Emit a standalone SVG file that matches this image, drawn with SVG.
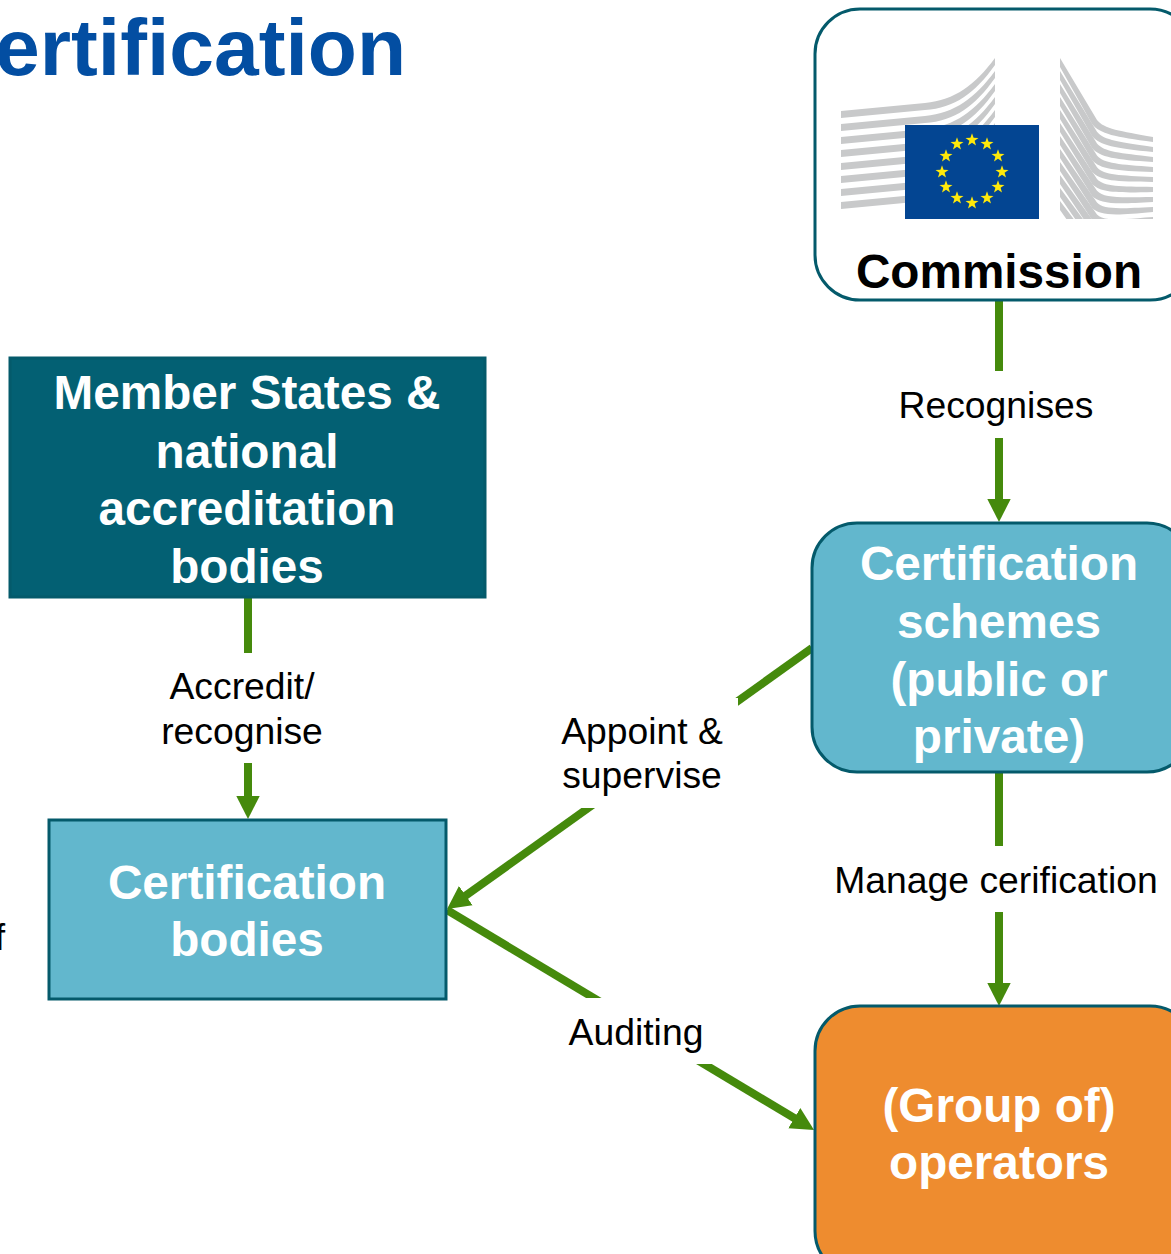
<svg xmlns="http://www.w3.org/2000/svg" width="1171" height="1254" viewBox="0 0 1171 1254">
<style>
text{font-family:"Liberation Sans",Arial,sans-serif}
.h{font-size:47.7px;font-weight:700;text-anchor:middle;fill:#fff;transform:translate(0,.5px)}
.l{font-size:37.3px;text-anchor:middle;fill:#000}
.c{fill:none;stroke:#458a0c;stroke-width:8}
.n{stroke:#045a6b;stroke-width:3}
.mask{fill:#fff}
</style>
<defs>
<marker id="a" markerUnits="userSpaceOnUse" markerWidth="24" markerHeight="24" refX="12" refY="12" orient="auto"><path d="M0 0.3L23 12L0 23.7Z" fill="#458a0c"/></marker>
<clipPath id="lw"><rect x="841" y="50" width="155" height="169"/></clipPath>
<clipPath id="rw"><rect x="1060" y="50" width="93" height="169"/></clipPath>
<path id="lb" fill="#c8c9ca" d="M841 111L925 103C955 100 975 85 995 58V65C975 93 955 108 925 110L841 118Z"/>
<path id="rb" fill="#c8c9ca" d="M1060 58L1097 120C1104 129 1120 131 1153 137V142C1115 137 1100 134 1092 124L1060 67Z"/>
<path id="s" d="M0-6.8L1.6-2.2L6.5-2.1L2.6 0.8L4 5.5L0 2.7L-4 5.5L-2.6 0.8L-6.5-2.1L-1.6-2.2Z" fill="#ffe90a"/>
</defs>
<rect width="1171" height="1254" fill="#fff"/>
<text id="title" x="406" y="75" text-anchor="end" font-size="80.4" font-weight="700" fill="#034ea2">ertification</text>
<text id="clipped" x="5" y="950" text-anchor="end" font-size="37.3" fill="#000">f</text>
<g id="connectors">
<path class="c" d="M999 300V371"/>
<path class="c" d="M999 438V511" marker-end="url(#a)"/>
<path class="c" d="M999 772V846"/>
<path class="c" d="M999 912V995" marker-end="url(#a)"/>
<path class="c" d="M248 597V653"/>
<path class="c" d="M248 763V808" marker-end="url(#a)"/>
<path class="c" d="M812 648L456 902.6" marker-end="url(#a)"/>
<path class="c" d="M447 910L804.6 1124.3" marker-end="url(#a)"/>
<rect class="mask" x="556" y="698" width="182" height="110"/>
<rect class="mask" x="555" y="998" width="165" height="66"/>
</g>
<g id="commission">
<rect class="n" x="815" y="9" width="380" height="291" rx="45" fill="#fff"/>
<g id="logo-left" clip-path="url(#lw)">
<use href="#lb"/><use href="#lb" y="13"/><use href="#lb" y="26"/><use href="#lb" y="39"/><use href="#lb" y="52"/><use href="#lb" y="65"/><use href="#lb" y="78"/><use href="#lb" y="91"/>
</g>
<g id="logo-right" clip-path="url(#rw)">
<use href="#rb"/>
<use href="#rb" transform="matrix(1 -.03226 0 1 0 47.19)"/>
<use href="#rb" transform="matrix(1 -.06452 0 1 0 94.38)"/>
<use href="#rb" transform="matrix(1 -.09678 0 1 0 141.57)"/>
<use href="#rb" transform="matrix(1 -.12904 0 1 0 188.76)"/>
<use href="#rb" transform="matrix(1 -.1613 0 1 0 235.95)"/>
<use href="#rb" transform="matrix(1 -.19356 0 1 0 283.14)"/>
<use href="#rb" transform="matrix(1 -.22582 0 1 0 330.33)"/>
<use href="#rb" transform="matrix(1 -.25808 0 1 0 377.52)"/>
<use href="#rb" transform="matrix(1 -.29034 0 1 0 424.71)"/>
<use href="#rb" transform="matrix(1 -.3226 0 1 0 471.9)"/>
<use href="#rb" transform="matrix(1 -.35486 0 1 0 519.09)"/>
</g>
<rect x="905" y="125" width="134" height="94" fill="#034592"/>
<g id="stars">
<use href="#s" x="972" y="140"/><use href="#s" x="987" y="144"/><use href="#s" x="998" y="156"/><use href="#s" x="1002" y="172"/><use href="#s" x="998" y="187"/><use href="#s" x="987" y="198"/><use href="#s" x="972" y="203"/><use href="#s" x="957" y="198"/><use href="#s" x="946" y="187"/><use href="#s" x="942" y="172"/><use href="#s" x="946" y="156"/><use href="#s" x="957" y="144"/>
</g>
<text x="999" y="287.5" font-size="47.7" font-weight="700" text-anchor="middle" fill="#000">Commission</text>
</g>
<g id="schemes">
<rect class="n" x="812" y="523" width="380" height="249" rx="45" fill="#62b7cd"/>
<text class="h" x="999" y="579">Certification</text>
<text class="h" x="999" y="637">schemes</text>
<text class="h" x="999" y="695">(public or</text>
<text class="h" x="999" y="752">private)</text>
</g>
<g id="operators">
<rect class="n" x="815" y="1006" width="380" height="270" rx="45" fill="#ee8c2f"/>
<text class="h" x="999" y="1121">(Group of)</text>
<text class="h" x="999" y="1178">operators</text>
</g>
<g id="member-states">
<rect class="n" x="10" y="358" width="475" height="239" fill="#036073"/>
<text class="h" x="247" y="408">Member States &amp;</text>
<text class="h" x="247" y="467">national</text>
<text class="h" x="247" y="524">accreditation</text>
<text class="h" x="247" y="582">bodies</text>
</g>
<g id="certification-bodies">
<rect class="n" x="49" y="820" width="397" height="179" fill="#62b7cd"/>
<text class="h" x="247" y="898">Certification</text>
<text class="h" x="247" y="955">bodies</text>
</g>
<g id="labels">
<text class="l" x="996" y="418">Recognises</text>
<text class="l" x="242" y="699">Accredit/</text>
<text class="l" x="242" y="744">recognise</text>
<text class="l" x="642" y="744">Appoint &amp;</text>
<text class="l" x="642" y="788">supervise</text>
<text class="l" x="996" y="893">Manage cerification</text>
<text class="l" x="636" y="1045">Auditing</text>
</g>
</svg>
